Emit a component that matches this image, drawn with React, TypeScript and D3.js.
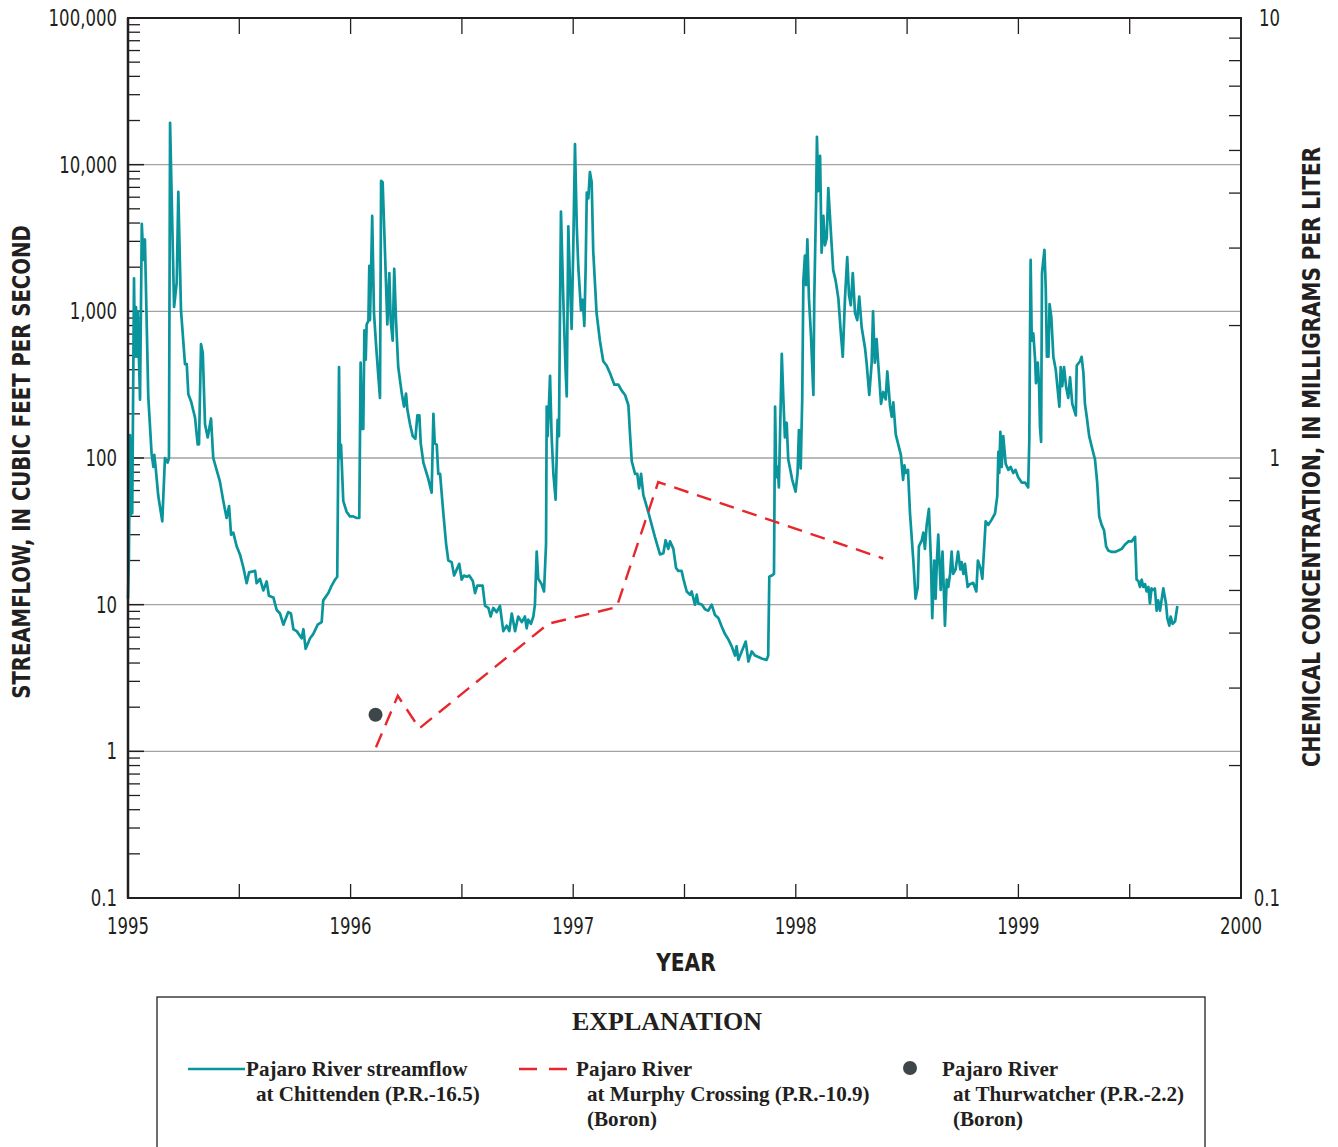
import React from "react";
import * as d3 from "d3";

// ---------- DATA ----------
// Daily streamflow, Pajaro River at Chittenden: [decimal year, cubic feet per second]
const streamflow: [number, number][] = [
  [1995.000, 11], [1995.004, 21], [1995.009, 143], [1995.013, 41], [1995.017, 135], [1995.019, 42],
  [1995.027, 1680], [1995.031, 490], [1995.036, 1070], [1995.040, 490], [1995.044, 1000], [1995.049, 490],
  [1995.054, 250], [1995.062, 3950], [1995.069, 2240], [1995.076, 3090], [1995.091, 263], [1995.106, 107],
  [1995.114, 87], [1995.118, 105], [1995.124, 87], [1995.136, 55], [1995.154, 37], [1995.166, 100],
  [1995.178, 93], [1995.184, 100], [1995.189, 19300], [1995.207, 1070], [1995.219, 1580], [1995.226, 6530],
  [1995.238, 1020], [1995.256, 437], [1995.264, 437], [1995.271, 272], [1995.283, 244], [1995.301, 189],
  [1995.313, 124], [1995.319, 124], [1995.328, 597], [1995.336, 519], [1995.346, 170], [1995.358, 138],
  [1995.373, 186], [1995.383, 100], [1995.413, 69], [1995.428, 51], [1995.443, 39], [1995.454, 47],
  [1995.463, 30], [1995.473, 31], [1995.488, 25], [1995.503, 22], [1995.518, 18], [1995.533, 14],
  [1995.544, 16.6], [1995.558, 16.8], [1995.571, 17], [1995.578, 14], [1995.593, 15], [1995.608, 12.5],
  [1995.623, 14.4], [1995.633, 11.5], [1995.653, 11.2], [1995.668, 9.2], [1995.683, 8.7], [1995.698, 7.3],
  [1995.720, 8.9], [1995.732, 8.7], [1995.743, 6.8], [1995.758, 6.6], [1995.780, 5.9], [1995.788, 6.8],
  [1995.798, 5.0], [1995.818, 5.9], [1995.832, 6.3], [1995.852, 7.3], [1995.870, 7.6], [1995.877, 10.7],
  [1995.900, 12], [1995.915, 13.5], [1995.930, 14.8], [1995.940, 15.5], [1995.948, 417], [1995.952, 100],
  [1995.957, 123], [1995.967, 51], [1995.982, 43], [1995.997, 40], [1996.012, 40], [1996.027, 39],
  [1996.039, 39], [1996.045, 447], [1996.051, 158], [1996.057, 158], [1996.062, 741], [1996.068, 468],
  [1996.072, 813], [1996.080, 861], [1996.084, 2040], [1996.087, 871], [1996.092, 1860], [1996.097, 4470],
  [1996.105, 977], [1996.114, 603], [1996.124, 372], [1996.132, 257], [1996.137, 7760], [1996.144, 7590],
  [1996.155, 2400], [1996.165, 813], [1996.174, 1820], [1996.180, 871], [1996.189, 631], [1996.196, 1950],
  [1996.204, 871], [1996.214, 417], [1996.230, 275], [1996.240, 224], [1996.249, 275], [1996.255, 214],
  [1996.267, 170], [1996.279, 141], [1996.291, 135], [1996.300, 195], [1996.309, 195], [1996.315, 126],
  [1996.327, 93], [1996.349, 72], [1996.364, 58], [1996.372, 200], [1996.378, 126], [1996.387, 123],
  [1996.394, 78], [1996.402, 78], [1996.416, 43], [1996.429, 26], [1996.439, 20], [1996.454, 19.5],
  [1996.465, 15.8], [1996.477, 17.4], [1996.488, 19], [1996.499, 14.8], [1996.509, 15.8], [1996.522, 15.5],
  [1996.533, 15.8], [1996.549, 14.5], [1996.559, 12], [1996.569, 13.5], [1996.581, 13.5], [1996.593, 13.5],
  [1996.604, 9.8], [1996.619, 9.5], [1996.629, 8.3], [1996.641, 9.5], [1996.656, 8.9], [1996.671, 9.8],
  [1996.686, 6.6], [1996.701, 7.2], [1996.713, 6.6], [1996.724, 8.7], [1996.739, 6.6], [1996.753, 8.3],
  [1996.769, 7.6], [1996.783, 8.3], [1996.791, 6.9], [1996.798, 7.9], [1996.810, 7.4], [1996.821, 8.3],
  [1996.828, 10], [1996.836, 23], [1996.843, 15], [1996.858, 13.8], [1996.869, 12.3], [1996.878, 26],
  [1996.881, 224], [1996.885, 141], [1996.891, 229], [1996.896, 363], [1996.903, 141], [1996.911, 78],
  [1996.921, 52], [1996.930, 182], [1996.936, 141], [1996.941, 1150], [1996.945, 4790], [1996.956, 1150],
  [1996.966, 389], [1996.971, 263], [1996.978, 3800], [1996.986, 1510], [1996.993, 759], [1997.000, 2570],
  [1997.008, 13800], [1997.016, 3800], [1997.023, 2000], [1997.035, 1020], [1997.043, 1200], [1997.050, 794],
  [1997.056, 2000], [1997.061, 6460], [1997.068, 5890], [1997.075, 8910], [1997.083, 7590], [1997.090, 2570],
  [1997.105, 977], [1997.120, 631], [1997.135, 457], [1997.150, 427], [1997.165, 380], [1997.185, 316],
  [1997.203, 316], [1997.218, 288], [1997.233, 269], [1997.248, 229], [1997.255, 148], [1997.263, 95],
  [1997.278, 78], [1997.288, 78], [1997.296, 62], [1997.305, 78], [1997.315, 56], [1997.337, 43],
  [1997.367, 29], [1997.390, 22], [1997.405, 22.4], [1997.415, 27.5], [1997.427, 24], [1997.435, 27],
  [1997.450, 24], [1997.462, 17.8], [1997.472, 17], [1997.487, 17], [1997.495, 15], [1997.510, 12.3],
  [1997.525, 11.7], [1997.532, 12.3], [1997.547, 10], [1997.555, 11.7], [1997.562, 10.2], [1997.579, 10],
  [1997.592, 9.3], [1997.607, 9.1], [1997.622, 10], [1997.637, 8.5], [1997.652, 8.1], [1997.667, 7.1],
  [1997.682, 6.3], [1997.697, 5.8], [1997.712, 5.2], [1997.727, 4.5], [1997.734, 5.2], [1997.742, 4.2],
  [1997.757, 4.8], [1997.775, 5.6], [1997.787, 4.1], [1997.802, 4.8], [1997.817, 4.5], [1997.847, 4.3],
  [1997.869, 4.2], [1997.876, 4.5], [1997.881, 15.5], [1997.892, 15.8], [1997.902, 16.2], [1997.907, 224],
  [1997.912, 74], [1997.919, 87], [1997.924, 63], [1997.937, 513], [1997.944, 257], [1997.951, 138],
  [1997.959, 174], [1997.966, 98], [1997.984, 71], [1997.999, 59], [1998.008, 79], [1998.014, 155],
  [1998.022, 85], [1998.029, 257], [1998.034, 1620], [1998.041, 2400], [1998.046, 1510], [1998.052, 3090],
  [1998.059, 1230], [1998.068, 692], [1998.079, 269], [1998.083, 1230], [1998.091, 5500], [1998.095, 15500],
  [1998.101, 6610], [1998.109, 11500], [1998.116, 2510], [1998.124, 4470], [1998.131, 2820], [1998.139, 3160],
  [1998.146, 6920], [1998.158, 3390], [1998.168, 1910], [1998.179, 1620], [1998.191, 1230], [1998.203, 692],
  [1998.211, 490], [1998.221, 1230], [1998.231, 2340], [1998.239, 1290], [1998.247, 1100], [1998.256, 1820],
  [1998.266, 977], [1998.276, 871], [1998.285, 1260], [1998.296, 776], [1998.311, 562], [1998.318, 447],
  [1998.330, 269], [1998.341, 447], [1998.347, 1000], [1998.355, 447], [1998.363, 646], [1998.370, 447],
  [1998.383, 234], [1998.393, 282], [1998.404, 251], [1998.411, 389], [1998.423, 229], [1998.431, 191],
  [1998.438, 240], [1998.449, 145], [1998.472, 105], [1998.482, 71], [1998.488, 89], [1998.494, 79],
  [1998.504, 83], [1998.513, 42], [1998.528, 20], [1998.538, 11], [1998.548, 13.2], [1998.553, 25],
  [1998.566, 27.5], [1998.573, 31], [1998.580, 24], [1998.588, 35], [1998.598, 45], [1998.607, 20],
  [1998.613, 8.1], [1998.622, 20], [1998.628, 11], [1998.634, 20], [1998.640, 30], [1998.651, 12.6],
  [1998.659, 23], [1998.665, 12.6], [1998.670, 7.2], [1998.678, 14.8], [1998.685, 13.2], [1998.693, 16.2],
  [1998.700, 23], [1998.707, 16.2], [1998.718, 17.4], [1998.729, 23], [1998.739, 17.4], [1998.745, 19.5],
  [1998.753, 16.2], [1998.760, 19], [1998.772, 13.2], [1998.782, 13.8], [1998.797, 14.1], [1998.811, 12.3],
  [1998.818, 20], [1998.831, 17.4], [1998.838, 15], [1998.853, 37], [1998.865, 35], [1998.880, 38],
  [1998.895, 42], [1998.905, 55], [1998.910, 110], [1998.914, 79], [1998.919, 151], [1998.925, 87],
  [1998.932, 141], [1998.943, 91], [1998.955, 83], [1998.965, 87], [1998.977, 79], [1998.987, 83],
  [1998.999, 74], [1999.015, 68], [1999.030, 68], [1999.044, 63], [1999.049, 132], [1999.052, 631],
  [1999.055, 2240], [1999.060, 631], [1999.067, 708], [1999.075, 468], [1999.079, 324], [1999.087, 447],
  [1999.093, 309], [1999.097, 162], [1999.102, 129], [1999.106, 1820], [1999.112, 2240], [1999.117, 2630],
  [1999.123, 1410], [1999.128, 490], [1999.135, 490], [1999.140, 1120], [1999.148, 912], [1999.157, 490],
  [1999.168, 398], [1999.175, 309], [1999.184, 224], [1999.190, 417], [1999.197, 309], [1999.205, 417],
  [1999.214, 309], [1999.224, 257], [1999.232, 355], [1999.242, 234], [1999.250, 214], [1999.258, 195],
  [1999.262, 427], [1999.277, 457], [1999.284, 490], [1999.292, 380], [1999.299, 234], [1999.307, 191],
  [1999.318, 141], [1999.334, 112], [1999.344, 98], [1999.354, 68], [1999.363, 40], [1999.374, 35],
  [1999.385, 32], [1999.394, 25], [1999.404, 23.4], [1999.419, 22.9], [1999.434, 22.9], [1999.449, 23.4],
  [1999.464, 24], [1999.479, 25.7], [1999.494, 27], [1999.509, 27], [1999.524, 29], [1999.531, 14.8],
  [1999.539, 14.5], [1999.546, 13.2], [1999.554, 14.8], [1999.561, 13.2], [1999.569, 13.8], [1999.576, 12.3],
  [1999.584, 13.2], [1999.591, 10.2], [1999.598, 12.9], [1999.606, 12.6], [1999.613, 12.9], [1999.621, 9.1],
  [1999.628, 10.7], [1999.636, 9.1], [1999.643, 10.7], [1999.651, 12.9], [1999.663, 10.2], [1999.669, 8.1],
  [1999.678, 7.2], [1999.684, 8.3], [1999.693, 7.4], [1999.704, 7.7], [1999.714, 9.8],
];

// Boron, Pajaro River at Murphy Crossing (P.R.-10.9): [decimal year, mg/L]
const boronMurphy: [number, number][] = [
  [1996.114, 0.22], [1996.212, 0.288], [1996.309, 0.243], [1996.888, 0.42],
  [1997.195, 0.458], [1997.382, 0.882], [1998.393, 0.591],
];

// Boron, Pajaro River at Thurwatcher (P.R.-2.2): [decimal year, mg/L]
const boronThurwatcher: [number, number][] = [[1996.112, 0.261]];

const yearTicks = [1995, 1996, 1997, 1998, 1999, 2000];
const leftTicks = [0.1, 1, 10, 100, 1000, 10000, 100000];
const leftTickLabels = ["0.1", "1", "10", "100", "1,000", "10,000", "100,000"];
const rightTicks = [0.1, 1, 10];
const rightTickLabels = ["0.1", "1", "10"];

// ---------- LAYOUT ----------
const W = 1338;
const H = 1147;
const L = 128, R = 1241, T = 18, B = 898;

const TEAL = "#0a949b";
const RED = "#e8262b";
const DOT = "#3e4649";
const INK = "#231f20";
const GRID = "#a3a3a3";
const SANS = "'Liberation Sans Narrow', 'DejaVu Sans Condensed', 'Liberation Sans', Arial, sans-serif";
const SERIF = "'Liberation Serif', 'DejaVu Serif', 'Times New Roman', serif";

type TProps = {
  x: number; y: number; sx?: number; rotate?: number; anchor?: "start" | "middle" | "end";
  size: number; bold?: boolean; family?: string; children: React.ReactNode;
};
function Txt({ x, y, sx = 1, rotate = 0, anchor = "start", size, bold, family = SANS, children }: TProps) {
  return (
    <g transform={`translate(${x},${y}) rotate(${rotate}) scale(${sx},1)`}>
      <text x={0} y={0} textAnchor={anchor} fontFamily={family} fontSize={size}
        fontWeight={bold ? "bold" : "normal"} fill={INK}>
        {children}
      </text>
    </g>
  );
}

export default function App() {
  const x = d3.scaleLinear().domain([1995, 2000]).range([L, R]);
  const yL = d3.scaleLog().domain([0.1, 100000]).range([B, T]);
  const yR = d3.scaleLog().domain([0.1, 10]).range([B, T]);

  const flowLine = d3.line<[number, number]>().x((d) => x(d[0])).y((d) => yL(d[1]));
  const boronLine = d3.line<[number, number]>().x((d) => x(d[0])).y((d) => yR(d[1]));

  const leftMinor: number[] = [];
  for (let k = -1; k < 5; k++) for (let m = 2; m <= 9; m++) leftMinor.push(m * Math.pow(10, k));
  const rightMinor: number[] = [];
  for (let k = -1; k < 1; k++) for (let m = 2; m <= 9; m++) rightMinor.push(m * Math.pow(10, k));
  const halfYears: number[] = [];
  for (let yv = 1995.5; yv < 2000; yv += 0.5) halfYears.push(yv);

  return (
    <svg width={W} height={H} style={{ position: "absolute", left: 0, top: 0, display: "block", background: "#fff" }}>
      {/* gridlines */}
      {leftTicks.slice(1, -1).map((v) => (
        <line key={"g" + v} x1={L} x2={R} y1={yL(v)} y2={yL(v)} stroke={GRID} strokeWidth={1.3} />
      ))}

      {/* left ticks */}
      {leftMinor.map((v, i) => (
        <line key={"lm" + i} x1={L} x2={L + 12} y1={yL(v)} y2={yL(v)} stroke={INK} strokeWidth={1.3} />
      ))}
      {leftTicks.map((v) => (
        <line key={"lM" + v} x1={L} x2={L + 16} y1={yL(v)} y2={yL(v)} stroke={INK} strokeWidth={1.5} />
      ))}
      {/* right ticks */}
      {rightMinor.map((v, i) => (
        <line key={"rm" + i} x1={R - 12} x2={R} y1={yR(v)} y2={yR(v)} stroke={INK} strokeWidth={1.3} />
      ))}
      {/* x ticks */}
      {halfYears.map((v) => (
        <g key={"xt" + v}>
          <line x1={x(v)} x2={x(v)} y1={B} y2={B - 14} stroke={INK} strokeWidth={1.3} />
          <line x1={x(v)} x2={x(v)} y1={T} y2={T + 16} stroke={INK} strokeWidth={1.3} />
        </g>
      ))}

      {/* data */}
      <path d={flowLine(streamflow) || ""} fill="none" stroke={TEAL} strokeWidth={2.7} strokeLinejoin="round" />
      <path d={boronLine(boronMurphy) || ""} fill="none" stroke={RED} strokeWidth={2.4} strokeDasharray="15,9" />
      {boronThurwatcher.map((d, i) => (
        <circle key={"dot" + i} cx={x(d[0])} cy={yR(d[1])} r={7} fill={DOT} />
      ))}

      {/* frame */}
      <rect x={L} y={T} width={R - L} height={B - T} fill="none" stroke={INK} strokeWidth={2} />
      <line x1={L} x2={L} y1={T} y2={B} stroke={INK} strokeWidth={2.5} />

      {/* tick labels */}
      {leftTicks.map((v, i) => (
        <Txt key={"ll" + v} x={117} y={yL(v) + 8} anchor="end" size={23} sx={0.8}>{leftTickLabels[i]}</Txt>
      ))}
      {rightTicks.map((v, i) => (
        <Txt key={"rl" + v} x={1280} y={yR(v) + 8} anchor="end" size={23} sx={0.8}>{rightTickLabels[i]}</Txt>
      ))}
      {yearTicks.map((v) => (
        <Txt key={"yl" + v} x={x(v)} y={934} anchor="middle" size={23} sx={0.8}>{String(v)}</Txt>
      ))}

      {/* axis titles */}
      <Txt x={686} y={971} anchor="middle" size={25} bold sx={0.9}>YEAR</Txt>
      <Txt x={30} y={462} rotate={-90} anchor="middle" size={25} bold sx={0.875}>
        STREAMFLOW, IN CUBIC FEET PER SECOND
      </Txt>
      <Txt x={1320} y={457} rotate={-90} anchor="middle" size={25} bold sx={0.888}>
        CHEMICAL CONCENTRATION, IN MILLIGRAMS PER LITER
      </Txt>

      {/* legend */}
      <rect x={157} y={997} width={1048} height={170} fill="none" stroke={INK} strokeWidth={1.3} />
      <Txt x={667} y={1030} anchor="middle" size={26} bold family={SERIF}>EXPLANATION</Txt>

      <line x1={188} x2={245} y1={1069} y2={1069} stroke={TEAL} strokeWidth={2.7} />
      <Txt x={246} y={1076} size={22} bold family={SERIF} sx={0.96}>Pajaro River streamflow</Txt>
      <Txt x={256} y={1101} size={22} bold family={SERIF} sx={0.96}>at Chittenden (P.R.-16.5)</Txt>

      <line x1={519} x2={567} y1={1069} y2={1069} stroke={RED} strokeWidth={2.4} strokeDasharray="18,12" />
      <Txt x={576} y={1076} size={22} bold family={SERIF} sx={0.96}>Pajaro River</Txt>
      <Txt x={587} y={1101} size={22} bold family={SERIF} sx={0.96}>at Murphy Crossing (P.R.-10.9)</Txt>
      <Txt x={587} y={1126} size={22} bold family={SERIF} sx={0.96}>(Boron)</Txt>

      <circle cx={910} cy={1068} r={7} fill={DOT} />
      <Txt x={942} y={1076} size={22} bold family={SERIF} sx={0.96}>Pajaro River</Txt>
      <Txt x={953} y={1101} size={22} bold family={SERIF} sx={0.96}>at Thurwatcher (P.R.-2.2)</Txt>
      <Txt x={953} y={1126} size={22} bold family={SERIF} sx={0.96}>(Boron)</Txt>
    </svg>
  );
}
